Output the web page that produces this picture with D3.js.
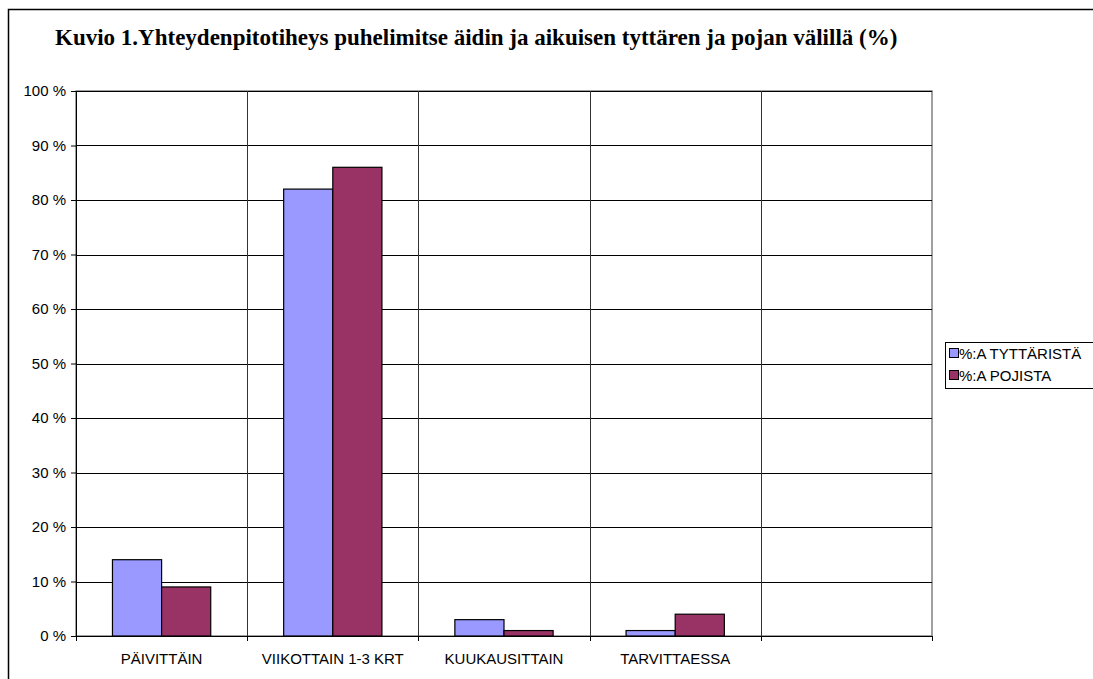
<!DOCTYPE html>
<html>
<head>
<meta charset="utf-8">
<script src="https://cdn.jsdelivr.net/npm/d3@7"></script>
<style>
  body { margin: 0; background: #fff; }
  svg { display: block; }
</style>
</head>
<body>
<svg id="chart" width="1093" height="679"></svg>
<script>
const categories = ['PÄIVITTÄIN', 'VIIKOTTAIN 1-3 KRT', 'KUUKAUSITTAIN', 'TARVITTAESSA', ''];
const seriesNames = ['%:A TYTTÄRISTÄ', '%:A POJISTA'];
const daughters = [14, 82, 3, 1, null];
const sons = [9, 86, 1, 4, null];
const yTicks = [0, 10, 20, 30, 40, 50, 60, 70, 80, 90, 100];
const colors = ['#9999ff', '#993366'];

const svg = d3.select('#chart');
const margin = {left: 76, top: 91, right: 161, bottom: 43};
const width = 1093 - margin.left - margin.right;
const height = 679 - margin.top - margin.bottom;
const sans = 'Arial, "Liberation Sans", sans-serif';

// outer chart border (runs off the page right and bottom)
svg.append('rect')
  .attr('x', 8.5).attr('y', 9.5)
  .attr('width', 1200).attr('height', 800)
  .attr('fill', 'none').attr('stroke', '#000').attr('stroke-width', 1.5);

svg.append('text')
  .attr('x', 55).attr('y', 45)
  .style('font-family', '"Liberation Serif", "Times New Roman", serif')
  .style('font-weight', 'bold')
  .style('font-size', '23px')
  .text('Kuvio 1.Yhteydenpitotiheys puhelimitse äidin ja aikuisen tyttären ja pojan välillä (%)');

const g = svg.append('g').attr('transform', `translate(${margin.left},${margin.top})`);

const x = d3.scaleBand().domain(categories.map((c, i) => i)).range([0, width]);
const y = d3.scaleLinear().domain([0, 100]).range([height, 0]);
const bw = x.bandwidth() * 0.287;

// plot area border
g.append('rect')
  .attr('x', 0).attr('y', 0).attr('width', width).attr('height', height)
  .attr('fill', 'none').attr('stroke', '#808080').attr('stroke-width', 1.5);

// horizontal gridlines
g.selectAll('.hgrid').data(yTicks.slice(1))
  .enter().append('line')
  .attr('x1', 0).attr('x2', width)
  .attr('y1', d => Math.round(y(d)) + 0.5).attr('y2', d => Math.round(y(d)) + 0.5)
  .attr('stroke', '#000');

// vertical gridlines at category boundaries
g.selectAll('.vgrid').data(d3.range(1, categories.length))
  .enter().append('line')
  .attr('x1', d => Math.round(x(d)) + 0.5).attr('x2', d => Math.round(x(d)) + 0.5)
  .attr('y1', 0).attr('y2', height)
  .attr('stroke', '#333');

const series = [daughters, sons];
series.forEach((vals, s) => {
  g.selectAll('.bar' + s).data(vals.map((v, i) => ({v, i})).filter(d => d.v != null))
    .enter().append('rect')
    .attr('x', d => x(d.i) + x.bandwidth() / 2 - bw + s * bw)
    .attr('y', d => y(d.v))
    .attr('width', bw)
    .attr('height', d => height - y(d.v))
    .attr('fill', colors[s])
    .attr('stroke', '#000').attr('stroke-width', 1.2);
});

// y axis
const yAxis = d3.axisLeft(y).tickValues(yTicks).tickSize(5).tickPadding(5)
  .tickFormat(d => d + ' %');
const ya = g.append('g').call(yAxis);
ya.select('.domain').attr('stroke', '#000');
ya.selectAll('text').style('font-family', sans).style('font-size', '15px').attr('fill', '#000');

// x axis line and ticks at boundaries
g.append('line').attr('x1', 0).attr('x2', width)
  .attr('y1', height + 0.5).attr('y2', height + 0.5).attr('stroke', '#000');
g.selectAll('.xtick').data(d3.range(0, categories.length + 1))
  .enter().append('line')
  .attr('x1', d => Math.round(d * x.step()) + 0.5).attr('x2', d => Math.round(d * x.step()) + 0.5)
  .attr('y1', height).attr('y2', height + 5)
  .attr('stroke', '#000');
g.selectAll('.xlabel').data(categories)
  .enter().append('text')
  .attr('x', (d, i) => x(i) + x.bandwidth() / 2)
  .attr('y', height + 28)
  .attr('text-anchor', 'middle')
  .style('font-family', sans)
  .style('font-size', '15px')
  .text(d => d);

// legend
const lg = svg.append('g').attr('transform', 'translate(945,342)');
lg.append('rect').attr('x', 0.5).attr('y', 0.5).attr('width', 160).attr('height', 46)
  .attr('fill', '#fff').attr('stroke', '#000');
seriesNames.forEach((name, i) => {
  lg.append('rect').attr('x', 4.5).attr('y', 6.5 + i * 22).attr('width', 9).attr('height', 9)
    .attr('fill', colors[i]).attr('stroke', '#000');
  lg.append('text').attr('x', 14).attr('y', 17 + i * 22)
    .style('font-family', sans)
    .style('font-size', '15px')
    .text(name);
});
</script>
</body>
</html>
